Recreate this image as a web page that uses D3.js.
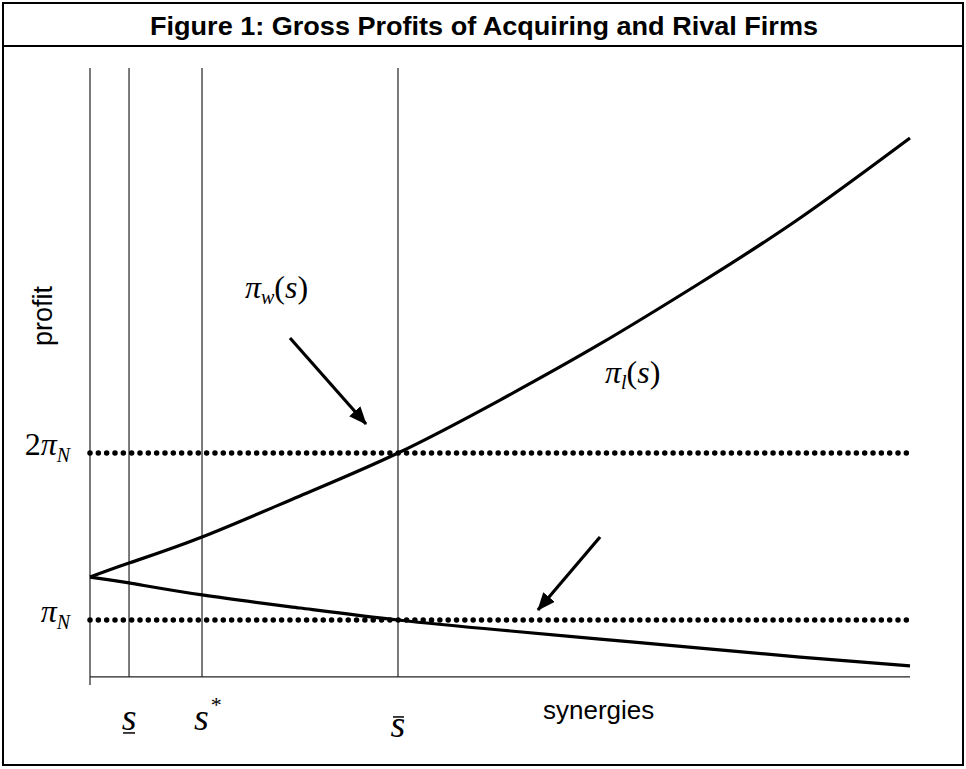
<!DOCTYPE html>
<html>
  <head>
    <meta charset="UTF-8" />
    <script src="https://d3js.org/d3.v7.min.js"></script>
    <style>
      body { margin: 0; background: #fff; }
    </style>
  </head>
  <body>
    <div id="fig"></div>
    <script>
      // synergies (x) and profit (y, in units of pi_N)
      const synergy    = [0, 0.476, 1.366, 2.561, 3.756, 5.0, 6.22, 7.44, 8.66, 10];
      const profitWin  = [1.257, 1.341, 1.497, 1.743, 2.0, 2.317, 2.653, 3.018, 3.407, 3.886];
      const profitLose = [1.257, 1.222, 1.150, 1.072, 1.0, 0.940, 0.886, 0.832, 0.778, 0.725];

      // vertical markers : axis, s underbar, s*, s bar
      const sMarks = [0, 0.476, 1.366, 3.756];
      const levels = [1, 2]; // pi_N , 2 pi_N

      // arrows [from s, from p, to s, to p]
      const arrowWin  = [2.439, 2.689, 3.366, 2.174];
      const arrowLose = [6.22, 1.497, 5.463, 1.060];

      const width = 966, height = 769;
      const serif = "'Liberation Serif', 'Times New Roman', serif";
      const sans = "'Liberation Sans', Arial, sans-serif";

      const svg = d3.select("#fig").append("svg")
        .attr("width", width).attr("height", height);

      // cadre + bandeau titre
      svg.append("rect").attr("x", 3).attr("y", 3).attr("width", 960).attr("height", 762)
        .attr("fill", "none").attr("stroke", "#000").attr("stroke-width", 2);
      svg.append("line").attr("x1", 3).attr("x2", 963).attr("y1", 46).attr("y2", 46)
        .attr("stroke", "#000").attr("stroke-width", 2);
      svg.append("text")
        .attr("x", 484).attr("y", 35)
        .attr("text-anchor", "middle")
        .attr("textLength", 668).attr("lengthAdjust", "spacingAndGlyphs")
        .style("font-family", sans).style("font-weight", "bold").style("font-size", "26px")
        .text("Figure 1: Gross Profits of Acquiring and Rival Firms");

      const x = d3.scaleLinear().domain([0, 10]).range([90, 910]);
      const y = d3.scaleLinear().domain([1, 2]).range([620, 453]);
      const pMin = 0.659, pMax = 4.305;

      const g = svg.append("g");

      // axe des x
      g.append("line")
        .attr("x1", x(0)).attr("x2", x(10)).attr("y1", y(pMin)).attr("y2", y(pMin))
        .attr("stroke", "#222").attr("stroke-width", 1.2);
      g.append("line")
        .attr("x1", x(0)).attr("x2", x(0)).attr("y1", y(pMin)).attr("y2", y(pMin) + 8)
        .attr("stroke", "#222").attr("stroke-width", 1.2);

      // lignes verticales
      g.selectAll(".vline")
        .data(sMarks)
        .join("line")
        .attr("class", "vline")
        .attr("x1", d => x(d)).attr("x2", d => x(d))
        .attr("y1", y(pMax)).attr("y2", y(pMin))
        .attr("stroke", "#222").attr("stroke-width", 1.2);

      // niveaux pointillés
      g.selectAll(".level")
        .data(levels)
        .join("line")
        .attr("class", "level")
        .attr("x1", x(0)).attr("x2", x(10))
        .attr("y1", d => y(d)).attr("y2", d => y(d))
        .attr("stroke", "#000").attr("stroke-width", 5.5)
        .attr("stroke-linecap", "round")
        .attr("stroke-dasharray", "0 8.33");

      // courbes
      const line = d3.line()
        .x(d => x(d[0])).y(d => y(d[1]))
        .curve(d3.curveNatural);

      [profitWin, profitLose].forEach(serie => {
        g.append("path")
          .datum(synergy.map((s, i) => [s, serie[i]]))
          .attr("d", line)
          .attr("fill", "none").attr("stroke", "#000").attr("stroke-width", 3.2);
      });

      // flèches
      svg.append("defs").append("marker")
        .attr("id", "head")
        .attr("markerUnits", "userSpaceOnUse")
        .attr("viewBox", "0 0 18 15")
        .attr("refX", 17).attr("refY", 7.5)
        .attr("markerWidth", 18).attr("markerHeight", 15)
        .attr("orient", "auto")
        .append("path").attr("d", "M0,0 L18,7.5 L0,15 Z").attr("fill", "#000");

      [arrowWin, arrowLose].forEach(a => {
        g.append("line")
          .attr("x1", x(a[0])).attr("y1", y(a[1]))
          .attr("x2", x(a[2])).attr("y2", y(a[3]))
          .attr("stroke", "#000").attr("stroke-width", 3.2)
          .attr("marker-end", "url(#head)");
      });

      // étiquettes des niveaux
      const levelLabels = [
        { v: 2, pre: "2", txt: "π" },
        { v: 1, pre: "", txt: "π" }
      ];
      levelLabels.forEach(l => {
        const t = g.append("text")
          .attr("x", 70).attr("y", y(l.v) + 2)
          .attr("text-anchor", "end")
          .style("font-family", serif).style("font-size", "32px");
        if (l.pre) t.append("tspan").text(l.pre);
        t.append("tspan").style("font-style", "italic").text(l.txt);
        t.append("tspan").style("font-style", "italic").style("font-size", "20px")
          .attr("dy", 7).text("N");
      });

      // étiquettes des courbes
      const curveLabels = [
        { s: 1.89, p: 2.93, sub: "w" },
        { s: 6.28, p: 2.42, sub: "l" }
      ];
      curveLabels.forEach(c => {
        const t = g.append("text")
          .attr("x", x(c.s)).attr("y", y(c.p))
          .style("font-family", serif).style("font-size", "32px");
        t.append("tspan").style("font-style", "italic").text("π");
        t.append("tspan").style("font-style", "italic").style("font-size", "20px")
          .attr("dy", 6).text(c.sub);
        t.append("tspan").attr("dy", -6).text("(");
        t.append("tspan").style("font-style", "italic").text("s");
        t.append("tspan").text(")");
      });

      // étiquettes sous l'axe
      const sy = y(pMin) + 53;
      g.append("text")
        .attr("x", x(sMarks[1])).attr("y", sy).attr("text-anchor", "middle")
        .style("font-family", serif).style("font-style", "italic").style("font-size", "38px")
        .text("s");
      g.append("line")
        .attr("x1", x(sMarks[1]) - 6).attr("x2", x(sMarks[1]) + 6)
        .attr("y1", sy + 3).attr("y2", sy + 3)
        .attr("stroke", "#000").attr("stroke-width", 1.5);

      const sStar = g.append("text")
        .attr("x", x(sMarks[2]) - 8).attr("y", sy)
        .style("font-family", serif).style("font-size", "38px");
      sStar.append("tspan").style("font-style", "italic").text("s");
      sStar.append("tspan").style("font-size", "22px").attr("dx", 2).attr("dy", -18).text("*");

      g.append("text")
        .attr("x", x(sMarks[3])).attr("y", sy + 7).attr("text-anchor", "middle")
        .style("font-family", serif).style("font-style", "italic").style("font-size", "38px")
        .text("s");
      g.append("line")
        .attr("x1", x(sMarks[3]) - 5).attr("x2", x(sMarks[3]) + 6)
        .attr("y1", sy - 13).attr("y2", sy - 13)
        .attr("stroke", "#000").attr("stroke-width", 1.5);

      // titres d'axes
      g.append("text")
        .attr("x", 543).attr("y", 719)
        .style("font-family", sans).style("font-size", "26px")
        .text("synergies");
      g.append("text")
        .attr("transform", "translate(52,316) rotate(-90)")
        .attr("text-anchor", "middle")
        .style("font-family", sans).style("font-size", "27px")
        .text("profit");
    </script>
  </body>
</html>
